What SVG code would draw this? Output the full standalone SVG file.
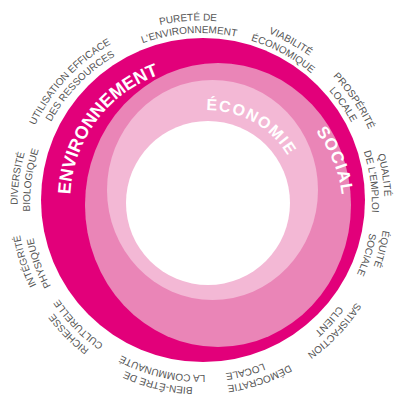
<svg xmlns="http://www.w3.org/2000/svg" xmlns:xlink="http://www.w3.org/1999/xlink" width="394" height="401" viewBox="0 0 394 401">
<style>
.lbl{font-family:"Liberation Sans",Arial,sans-serif;font-size:10px;fill:#555;text-anchor:middle}
.big{font-family:"Liberation Sans",Arial,sans-serif;font-weight:bold;fill:#fff;text-anchor:middle}
</style>
<defs>
<path id="p1" d="M201 387.5A183.5 183.5 0 1 1 201 20.5A183.5 183.5 0 1 1 201 387.5"/>
<path id="p2" d="M201 375A171 171 0 1 1 201 33A171 171 0 1 1 201 375"/>
<path id="pe" d="M203 332.6A132.6 132.6 0 1 1 203 67.4A132.6 132.6 0 1 1 203 332.6"/>
<path id="pc" d="M208 295.7A92.7 92.7 0 1 1 208 110.3A92.7 92.7 0 1 1 208 295.7"/>
<path id="ps" d="M215 337.7A127.7 127.7 0 1 1 215 82.3A127.7 127.7 0 1 1 215 337.7"/>
</defs>
<rect width="394" height="401" fill="#fff"/>
<g id="rings">
<circle id="environnement" cx="203" cy="200" r="162" fill="#e2007a"/>
<ellipse id="social" cx="218" cy="205" rx="133" ry="142" fill="#ea85b7"/>
<ellipse id="economie" cx="212.5" cy="190" rx="105.5" ry="110" fill="#f3b8d5"/>
<circle id="centre" cx="208" cy="203" r="82" fill="#fff"/>
</g>
<g id="ring-titles">
<text class="big" font-size="18" transform="rotate(306.5 203 200)"><textPath xlink:href="#pe" startOffset="50%">ENVIRONNEMENT</textPath></text>
<text class="big" font-size="16" letter-spacing="1.5" transform="rotate(29.5 208 203)"><textPath xlink:href="#pc" startOffset="50%">ÉCONOMIE</textPath></text>
<text class="big" font-size="17" letter-spacing="1" transform="rotate(67.75 215 210)"><textPath xlink:href="#ps" startOffset="50%">SOCIAL</textPath></text>
</g>
<g id="labels">
<text class="lbl" transform="rotate(-4 201 204)"><textPath xlink:href="#p1" startOffset="50%">PURETÉ DE</textPath></text>
<text class="lbl" transform="rotate(-4 201 204)"><textPath xlink:href="#p2" startOffset="50%">L'ENVIRONNEMENT</textPath></text>
<text class="lbl" transform="rotate(28.9 201 204)"><textPath xlink:href="#p1" startOffset="50%">VIABILITÉ</textPath></text>
<text class="lbl" transform="rotate(28.6 201 204)"><textPath xlink:href="#p2" startOffset="50%">ÉCONOMIQUE</textPath></text>
<text class="lbl" transform="rotate(56 201 204)"><textPath xlink:href="#p1" startOffset="50%">PROSPÉRITÉ</textPath></text>
<text class="lbl" transform="rotate(55 201 204)"><textPath xlink:href="#p2" startOffset="50%">LOCALE</textPath></text>
<text class="lbl" transform="rotate(81 201 204)"><textPath xlink:href="#p1" startOffset="50%">QUALITÉ</textPath></text>
<text class="lbl" transform="rotate(82.5 201 204)"><textPath xlink:href="#p2" startOffset="50%">DE L'EMPLOI</textPath></text>
<text class="lbl" transform="rotate(104 201 204)"><textPath xlink:href="#p1" startOffset="50%">ÉQUITÉ</textPath></text>
<text class="lbl" transform="rotate(107 201 204)"><textPath xlink:href="#p2" startOffset="50%">SOCIALE</textPath></text>
<text class="lbl" transform="rotate(133.5 201 204)"><textPath xlink:href="#p1" startOffset="50%">SATISFACTION</textPath></text>
<text class="lbl" transform="rotate(132.5 201 204)"><textPath xlink:href="#p2" startOffset="50%">CLIENT</textPath></text>
<text class="lbl" transform="rotate(161.5 201 204)"><textPath xlink:href="#p1" startOffset="50%">DÉMOCRATIE</textPath></text>
<text class="lbl" transform="rotate(165.2 201 204)"><textPath xlink:href="#p2" startOffset="50%">LOCALE</textPath></text>
<text class="lbl" transform="rotate(193.5 201 204)"><textPath xlink:href="#p1" startOffset="50%">BIEN-ÊTRE DE</textPath></text>
<text class="lbl" transform="rotate(193.2 201 204)"><textPath xlink:href="#p2" startOffset="50%">LA COMMUNAUTÉ</textPath></text>
<text class="lbl" transform="rotate(225.5 201 204)"><textPath xlink:href="#p1" startOffset="50%">RICHESSE</textPath></text>
<text class="lbl" transform="rotate(225.5 201 204)"><textPath xlink:href="#p2" startOffset="50%">CULTURELLE</textPath></text>
<text class="lbl" transform="rotate(252 201 204)"><textPath xlink:href="#p1" startOffset="50%">INTÉGRITÉ</textPath></text>
<text class="lbl" transform="rotate(250 201 204)"><textPath xlink:href="#p2" startOffset="50%">PHYSIQUE</textPath></text>
<text class="lbl" transform="rotate(278 201 204)"><textPath xlink:href="#p1" startOffset="50%">DIVERSITÉ</textPath></text>
<text class="lbl" transform="rotate(278 201 204)"><textPath xlink:href="#p2" startOffset="50%">BIOLOGIQUE</textPath></text>
<text class="lbl" transform="rotate(313 201 204)"><textPath xlink:href="#p1" startOffset="50%">UTILISATION EFFICACE</textPath></text>
<text class="lbl" transform="rotate(314.3 201 204)"><textPath xlink:href="#p2" startOffset="50%">DES RESSOURCES</textPath></text>
</g>
</svg>
